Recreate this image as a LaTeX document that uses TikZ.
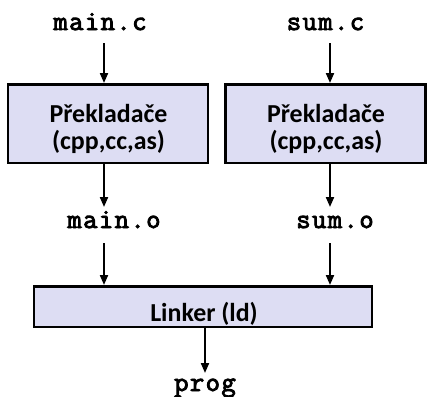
\documentclass[tikz,border=0pt]{standalone}
\usepackage{fontspec}
\setmainfont{Carlito}
\newfontfamily\codefont{Latin Modern Mono}[FakeBold=3.2, LetterSpace=5]
\usetikzlibrary{arrows.meta,calc}
\definecolor{boxfill}{RGB}{221,221,243}
\begin{document}
\begin{tikzpicture}[x=1bp,y=-1bp,
  procbox/.style={draw=black, line width=2.5bp, fill=boxfill, inner sep=0pt},
  boxtext/.style={font=\fontsize{26}{28}\selectfont\bfseries, inner sep=0pt, anchor=base},
  file/.style={font=\codefont\fontsize{28}{28}\selectfont, inner sep=0pt, anchor=base},
  arr/.style={line width=2bp, -{Triangle[width=8bp,length=10bp]}}]
\useasboundingbox (0,0) rectangle (427,397);
\coordinate (cl) at (104,0);
\coordinate (cr) at (330,0);
\coordinate (cm) at (205,0);
\node[procbox, minimum width=199.5bp, minimum height=78.5bp] (box1) at (108,123.5) {};
\node[procbox, minimum width=199.5bp, minimum height=78.5bp] (box2) at (325.5,123.5) {};
\node[procbox, minimum width=337.5bp, minimum height=40.5bp] (link) at (203,306.5) {};
\node[boxtext] (b1a) at (108.5,122) {Překladače};
\node[boxtext] (b1b) at (108.5,149) {(cpp,cc,as)};
\node[boxtext] (b2a) at (326,122) {Překladače};
\node[boxtext] (b2b) at (326,149) {(cpp,cc,as)};
\node[boxtext] (lk) at (204,321) {Linker (ld)};
\node[file] (mainc) at (100,30) {main.c};
\node[file] (sumc) at (325.5,30) {sum.c};
\node[file] (maino) at (114,228) {main.o};
\node[file] (sumo) at (335,228) {sum.o};
\node[file] (prog) at (205,391) {prog};
\draw[arr] ($(mainc.base -| cl)+(0,13)$) -- (box1.north -| cl);
\draw[arr] ($(sumc.base -| cr)+(0,13)$) -- (box2.north -| cr);
\draw[arr] (box1.south -| cl) -- ($(maino.base -| cl)+(0,-21)$);
\draw[arr] (box2.south -| cr) -- ($(sumo.base -| cr)+(0,-21)$);
\draw[arr] ($(maino.base -| cl)+(0,15)$) -- (link.north -| cl);
\draw[arr] ($(sumo.base -| cr)+(0,15)$) -- (link.north -| cr);
\draw[arr] (link.south -| cm) -- ($(prog.base -| cm)+(0,-18)$);
\end{tikzpicture}
\end{document}
